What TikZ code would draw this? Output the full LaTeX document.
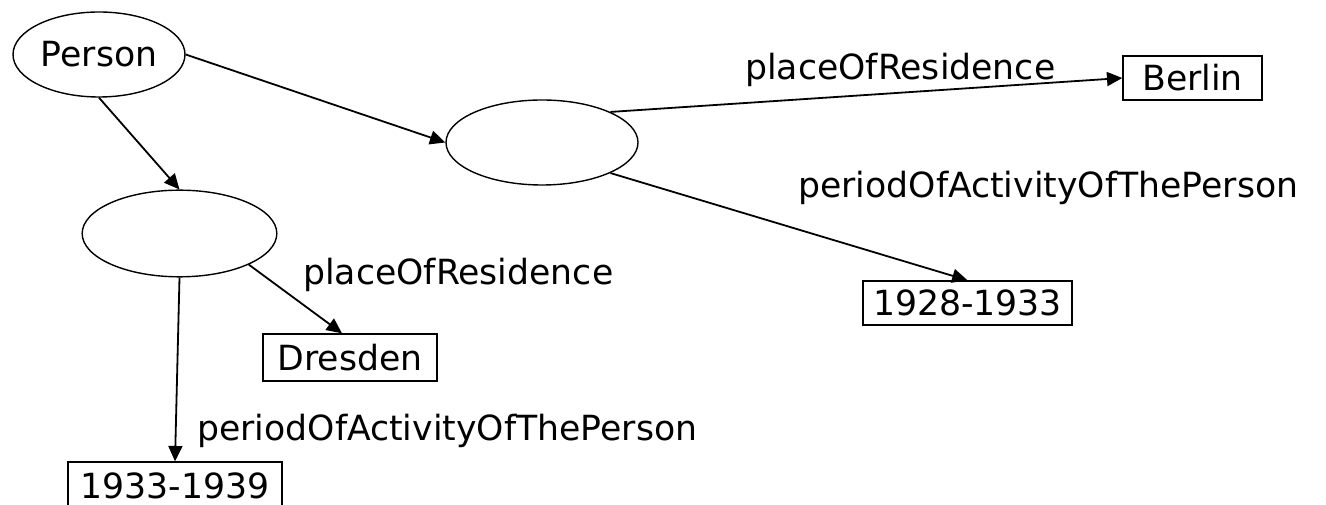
\documentclass[tikz,border=0pt]{standalone}
\usepackage{fontspec}
\setmainfont{DejaVu Sans}
\usetikzlibrary{shapes.geometric,arrows.meta}
\begin{document}
\begin{tikzpicture}[x=0.75pt,y=-0.75pt,
  every node/.style={font=\fontsize{26pt}{30pt}\selectfont, inner sep=0pt},
  blank/.style={ellipse, draw, line width=1.05pt},
  literal/.style={rectangle, draw, line width=1.05pt},
  lbl/.style={anchor=base west},
  conn/.style={draw, line width=1.35pt, -{Triangle[length=11.5pt,width=10.5pt]}}]
\useasboundingbox (0,0) rectangle (1326,505);
\node[blank, minimum width=129pt, minimum height=63.75pt] (P) at (99,54.5) {Person};
\node[blank, minimum width=144pt, minimum height=63.75pt] (E2) at (542,142.5) {};
\node[blank, minimum width=146pt, minimum height=65pt] (E3) at (179.5,233.5) {};
\node[literal, minimum width=104.25pt, minimum height=33pt] (B) at (1192.5,78) {Berlin};
\node[literal, minimum width=130.5pt, minimum height=35.25pt] (D) at (350,357.5) {Dresden};
\node[literal, minimum width=156.75pt, minimum height=33pt] (Y1) at (967.5,303) {1928-1933};
\node[literal, minimum width=160.5pt, minimum height=35.25pt] (Y2) at (175,485.5) {1933-1939};
\node[lbl] (L1) at (745,80) {placeOfResidence};
\node[lbl] (L2) at (798,198) {periodOfActivityOfThePerson};
\node[lbl] (L3) at (303,285) {placeOfResidence};
\node[lbl] (L4) at (197,440) {periodOfActivityOfThePerson};
\draw[conn] (P.east) -- (E2.west);
\draw[conn] (P.south) -- (E3.north);
\draw[conn] (E2.north east) -- (B.west);
\draw[conn] (E2.south east) -- (Y1.north);
\draw[conn] (E3.south east) -- ([xshift=-6pt]D.north);
\draw[conn] (E3.south) -- (Y2.north);
\end{tikzpicture}
\end{document}
